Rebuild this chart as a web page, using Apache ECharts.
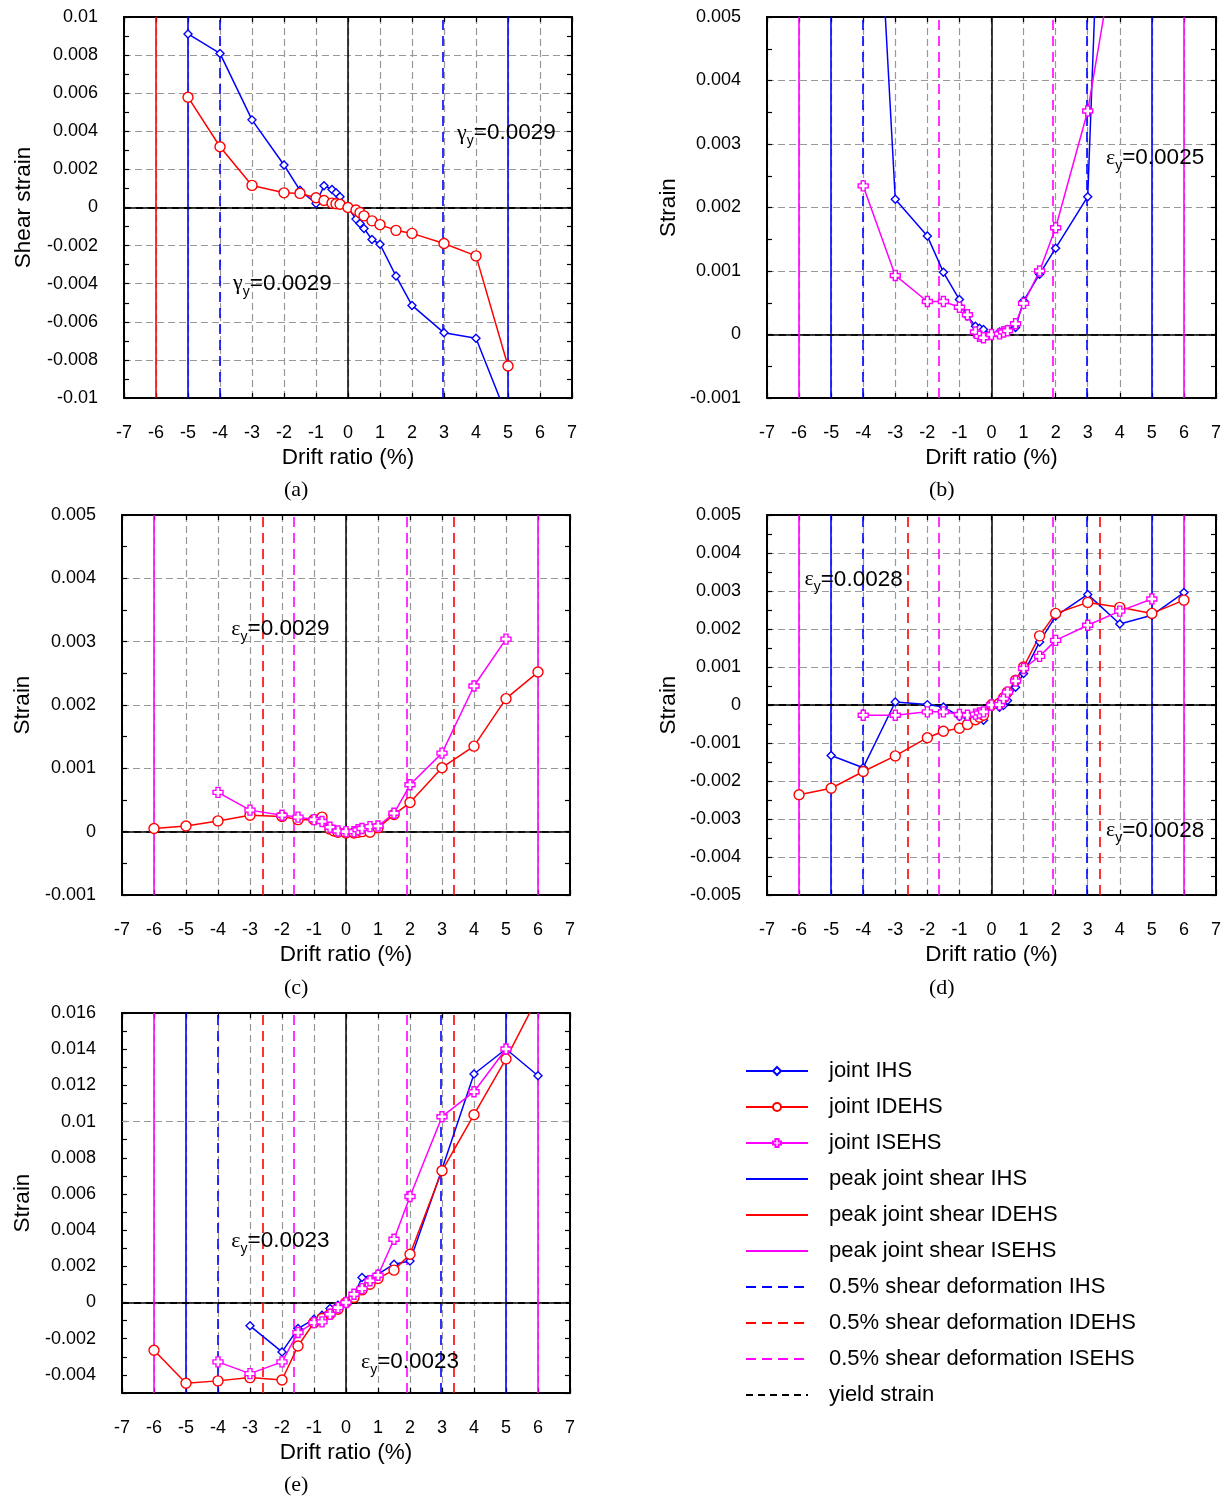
<!DOCTYPE html>
<html><head><meta charset="utf-8">
<script src="https://cdn.jsdelivr.net/npm/echarts@6/dist/echarts.min.js"></script>
<style>html,body{margin:0;padding:0;background:#fff}#c{width:1231px;height:1497px}</style>
</head><body><div id="c"></div>
<script>
// ---------------- DATA ----------------
// Panel (a) joint shear strain
const a_x_IHS   = [-5,-4,-3,-2,-1.5,-1,-0.75,-0.5,-0.375,-0.25,0,0.25,0.375,0.5,0.75,1,1.5,2,3,4,5];
const a_y_IHS   = [0.00911,0.00809,0.0046,0.00223,0.0009,0.00021,0.00114,0.00095,0.00077,0.00056,0,-0.00061,-0.00084,-0.0011,-0.00168,-0.00193,-0.0036,-0.00514,-0.00658,-0.00686,-0.0111];
const a_x_IDEHS = [-5,-4,-3,-2,-1.5,-1,-0.75,-0.5,-0.375,-0.25,0,0.25,0.375,0.5,0.75,1,1.5,2,3,4,5];
const a_y_IDEHS = [0.00579,0.00319,0.00116,0.00077,0.00074,0.00051,0.00037,0.00023,0.0002,0.00017,0,-0.00013,-0.00027,-0.00044,-0.0007,-0.0009,-0.0012,-0.00136,-0.00189,-0.00254,-0.00832];
// Panel (b)
const b_x_IHS   = [-4,-3,-2,-1.5,-1,-0.75,-0.5,-0.375,-0.25,0,0.25,0.375,0.5,0.75,1,1.5,2,3,4];
const b_y_IHS   = [0.0114,0.00213,0.00155,0.00098,0.00055,0.00029,0.00013,0.0001,0.00008,0,0.00004,0.00006,0.00008,0.00011,0.00053,0.00095,0.00136,0.00217,0.0157];
const b_x_ISEHS = [-4,-3,-2,-1.5,-1,-0.75,-0.5,-0.375,-0.25,0,0.25,0.375,0.5,0.75,1,1.5,2,3,4];
const b_y_ISEHS = [0.00234,0.00093,0.00052,0.00052,0.00043,0.00031,0.00004,-0.00003,-0.00005,0,0.00001,0.00004,0.00006,0.00017,0.00049,0.001,0.00168,0.00352,0.0065];
// Panel (c)
const c_x_IDEHS = [-6,-5,-4,-3,-2,-1.5,-1,-0.75,-0.5,-0.375,-0.25,0,0.25,0.375,0.5,0.75,1,1.5,2,3,4,5,6];
const c_y_IDEHS = [0.00005,0.00009,0.00017,0.00026,0.00024,0.00019,0.00019,0.00023,0.00004,0.00001,-0.00001,-0.00002,-0.00002,-0.00001,0,-0.00001,0.00006,0.00027,0.00046,0.00101,0.00135,0.0021,0.00252];
const c_x_ISEHS = [-4,-3,-2,-1.5,-1,-0.75,-0.5,-0.25,0,0.25,0.375,0.5,0.75,1,1.5,2,3,4,5];
const c_y_ISEHS = [0.00062,0.00034,0.00026,0.00023,0.00019,0.00016,0.00007,0.00001,0,0,0.00003,0.00005,0.00008,0.00009,0.00029,0.00074,0.00124,0.0023,0.00304];
// Panel (d)
const d_x_IHS   = [-5,-4,-3,-2,-1.5,-1,-0.75,-0.5,-0.25,0,0.25,0.375,0.5,0.75,1,1.5,2,3,4,5,6];
const d_y_IHS   = [-0.00133,-0.00165,0.00008,0.00001,-0.00005,-0.0003,-0.00033,-0.00036,-0.0004,0,-0.00006,-0.00001,0.00012,0.00047,0.00083,0.00166,0.00234,0.00291,0.00213,0.00236,0.00296];
const d_x_IDEHS = [-6,-5,-4,-3,-2,-1.5,-1,-0.75,-0.5,-0.375,-0.25,0,0.25,0.375,0.5,0.75,1,1.5,2,3,4,5,6];
const d_y_IDEHS = [-0.00236,-0.00219,-0.00175,-0.00134,-0.00086,-0.00069,-0.00061,-0.00051,-0.00039,-0.00032,-0.00027,0,0.00005,0.00019,0.00034,0.00065,0.001,0.00182,0.00241,0.0027,0.00257,0.00241,0.00276];
const d_x_ISEHS = [-4,-3,-2,-1.5,-1,-0.75,-0.5,-0.375,-0.25,0,0.25,0.375,0.5,0.75,1,1.5,2,3,4,5];
const d_y_ISEHS = [-0.00027,-0.00027,-0.00018,-0.00018,-0.00025,-0.00027,-0.00024,-0.00021,-0.00018,0,0.00001,0.00017,0.00034,0.00063,0.00096,0.00128,0.0017,0.0021,0.00247,0.00279];
// Panel (e)
const e_x_IHS   = [-3,-2,-1.5,-1,-0.75,-0.5,-0.25,0,0.25,0.5,1,1.5,2,3,4,5,6];
const e_y_IHS   = [-0.00129,-0.00273,-0.00144,-0.00092,-0.0007,-0.00033,-0.00015,0,0.0004,0.00138,0.00157,0.00212,0.0023,0.00737,0.01263,0.01401,0.01253];
const e_x_IDEHS = [-6,-5,-4,-3,-2,-1.5,-1,-0.75,-0.5,-0.25,0,0.25,0.5,0.75,1,1.5,2,3,4,5,6];
const e_y_IDEHS = [-0.00264,-0.00446,-0.00433,-0.00415,-0.00428,-0.0024,-0.00111,-0.00088,-0.00065,-0.00037,0,0.00028,0.0007,0.00101,0.00133,0.00179,0.00267,0.00728,0.01038,0.01346,0.0169];
const e_x_ISEHS = [-4,-3,-2,-1.5,-1,-0.75,-0.5,-0.25,0,0.25,0.5,0.75,1,1.5,2,3,4,5];
const e_y_ISEHS = [-0.00328,-0.00393,-0.00328,-0.00166,-0.00111,-0.00107,-0.00065,-0.00028,0,0.00046,0.00077,0.0012,0.00151,0.0035,0.00586,0.01027,0.01165,0.01401];

// vertical reference drift ratios (%)
const a_peakIHS = [-5,5], a_peakIDEHS = [-6], a_defIHS = [-4.02,2.96];
const b_peakIHS = [-5,5], b_peakISEHS = [-6,6], b_defIHS = [-4.02,2.96], b_defISEHS = [-1.63,1.91];
const c_peakISEHS = [-6,6], c_defIDEHS = [-2.59,3.36], c_defISEHS = [-1.63,1.91];
const d_peakIHS = [-5,5], d_peakISEHS = [-6,6], d_defIHS = [-4.02,2.96], d_defIDEHS = [-2.6,3.36], d_defISEHS = [-1.63,1.91];
const e_peakIHS = [-5,5], e_peakISEHS = [-6,6], e_defIHS = [-4.02,2.95], e_defIDEHS = [-2.59,3.36], e_defISEHS = [-1.63,1.91];

// yield strains
const a_yield = [0.0029,-0.0029];
const b_yield = [0.0025];
const c_yield = [0.0029];
const d_yield = [0.0028,-0.0028];
const e_yield = [0.0023,-0.0023];

// axes
const xRange = {min:-7, max:7, interval:1};
const yRanges = [
  {min:-0.01, max:0.01, interval:0.002},
  {min:-0.001, max:0.005, interval:0.001},
  {min:-0.001, max:0.005, interval:0.001},
  {min:-0.005, max:0.005, interval:0.001},
  {min:-0.005, max:0.016, interval:0.001} // labels every 0.002
];
const e_gridValues = [-0.004,-0.002,0,0.002,0.004,0.006,0.008,0.01,0.012,0.014,0.016];
const yNames = ['Shear strain','Strain','Strain','Strain','Strain'];
const panelLabels = ['(a)','(b)','(c)','(d)','(e)'];

// ---------------- STYLE / LAYOUT ----------------
const FONT = 'Liberation Sans, Arial, sans-serif';
const BLUE = '#0000ff', RED = '#ff0000', MAG = '#ff00ff';
const GREY = {color:'#999999', width:1.2, type:[7,4]};
const DASH = [10,6];
const grids = [
  {left:124, top:17, width:448, height:381},
  {left:767, top:17, width:449, height:381},
  {left:122, top:515, width:448, height:380},
  {left:767, top:515, width:449, height:380},
  {left:122, top:1013, width:448, height:380}
];
const yNameGap = [89, 87, 88, 87, 88];
const titlePos = [[279,474],[924,474],[279,972],[924,972],[279,1469]];
const plus = 'path://M3,0 L7,0 L7,3 L10,3 L10,7 L7,7 L7,10 L3,10 L3,7 L0,7 L0,3 L3,3 Z';
const markerStyle = {
  'joint IHS':   {color:BLUE, symbol:'diamond', size:8},
  'joint IDEHS': {color:RED, symbol:'circle', size:10},
  'joint ISEHS': {color:MAG, symbol:plus, size:10}
};

function fmt(v){ const r = Math.round(v*1e6)/1e6; return r===0 ? '0' : String(r); }

const xAxes = [], yAxes = [], series = [];
grids.forEach((g, gi) => {
  const yr = yRanges[gi];
  const evenOnly = gi === 4;
  const common = {gridIndex:gi, type:'value', min:xRange.min, max:xRange.max, interval:xRange.interval,
    axisLine:{show:true, onZero:false, lineStyle:{color:'#000', width:2}},
    axisTick:{show:true, inside:true, length:5, lineStyle:{color:'#000', width:1.2}}};
  xAxes.push(Object.assign({}, common, {position:'bottom',
    axisLabel:{fontSize:18, color:'#000', fontFamily:FONT, margin:26, formatter:fmt},
    splitLine:{show:true, lineStyle:GREY},
    name:'Drift ratio (%)', nameLocation:'middle', nameGap:48,
    nameTextStyle:{fontSize:22.5, color:'#000', fontFamily:FONT}}));
  xAxes.push(Object.assign({}, common, {position:'top', axisLabel:{show:false}, splitLine:{show:false}}));
  const ycommon = {gridIndex:gi, type:'value', min:yr.min, max:yr.max, interval:yr.interval,
    axisLine:{show:true, onZero:false, lineStyle:{color:'#000', width:2}},
    axisTick:{show:true, inside:true, length:5, lineStyle:{color:'#000', width:1.2}},
    minorTick:{show:!evenOnly, splitNumber:2, length:5, lineStyle:{color:'#000', width:1.2}}};
  yAxes.push(Object.assign({}, ycommon, {position:'left',
    axisLabel:{fontSize:18, color:'#000', fontFamily:FONT, margin:26,
      formatter: v => evenOnly ? (Math.abs(Math.round(v*1000))%2===0 ? fmt(v) : '') : fmt(v)},
    splitLine:{show:!evenOnly, lineStyle:GREY},
    name:yNames[gi], nameLocation:'middle', nameGap:yNameGap[gi],
    nameTextStyle:{fontSize:22.5, color:'#000', fontFamily:FONT}}));
  yAxes.push(Object.assign({}, ycommon, {position:'right', axisLabel:{show:false}, splitLine:{show:false}}));

  // helper series: extra grid lines + zero axes
  const helperLines = [];
  if (evenOnly) e_gridValues.forEach(v => helperLines.push({yAxis:v, lineStyle:GREY}));
  helperLines.push({xAxis:0, lineStyle:{color:'#000', width:1.5, type:'solid'}});
  helperLines.push({yAxis:0, lineStyle:{color:'#000', width:1.5, type:'solid'}});
  series.push({type:'line', name:'_helper'+gi, xAxisIndex:2*gi, yAxisIndex:2*gi, data:[], z:1,
    markLine:{silent:true, symbol:['none','none'], label:{show:false}, animation:false, data:helperLines}});
});

const NOSYM = {color:'rgba(0,0,0,0)', borderWidth:0, borderColor:'rgba(0,0,0,0)'};
function vlines(gi, name, xs, color, dashed){
  const ls = {color, width:1.6, type: dashed ? DASH : 'solid'};
  series.push({type:'line', name, xAxisIndex:2*gi, yAxisIndex:2*gi, data:[], symbol:'none', z:2,
    lineStyle:ls, itemStyle:NOSYM,
    markLine:{silent:true, symbol:['none','none'], label:{show:false}, animation:false, lineStyle:ls,
      data: xs.map(x => ({xAxis:x}))}});
}
function yieldLines(gi, vals, labels){
  const ls = {color:'#000', width:1.5, type:[7,5]};
  series.push({type:'line', name:'yield strain', xAxisIndex:2*gi, yAxisIndex:2*gi, data:[], symbol:'none', z:2,
    lineStyle:ls, itemStyle:NOSYM,
    markLine:{silent:true, symbol:['none','none'], label:{show:false}, animation:false, lineStyle:ls,
      data: vals.map(v => ({yAxis:v}))},
    markPoint:{silent:true, animation:false, symbol:'rect', symbolSize:1, itemStyle:{color:'rgba(0,0,0,0)'},
      label:{show:true, position:'inside', color:'#000',
        rich:{g:{fontFamily:'Liberation Serif, serif', fontSize:22, lineHeight:30, verticalAlign:'middle', color:'#000'},
              s:{fontFamily:FONT, fontSize:14, lineHeight:30, verticalAlign:'bottom', color:'#000'},
              n:{fontFamily:FONT, fontSize:22.5, lineHeight:30, verticalAlign:'middle', color:'#000'}}},
      data: labels.map(l => ({coord:[l.x, l.y], label:{formatter:'{g|'+l.sym+'}{s|y}{n|='+Math.abs(vals[l.i])+'}'}}))}});
}
function dataSeries(gi, name, xs, ys){
  const m = markerStyle[name];
  series.push({type:'line', name, xAxisIndex:2*gi, yAxisIndex:2*gi, z:5, clip:true,
    data: xs.map((x,i) => [x, ys[i]]), symbol:m.symbol, symbolSize:m.size, showSymbol:true,
    lineStyle:{color:m.color, width:1.5}, itemStyle:{color:'#fff', borderColor:m.color, borderWidth:1.4},
    animation:false});
}

// Panel (a)
vlines(0,'peak joint shear IDEHS',a_peakIDEHS,RED,false);
vlines(0,'peak joint shear IHS',a_peakIHS,BLUE,false);
vlines(0,'0.5% shear deformation IHS',a_defIHS,BLUE,true);
yieldLines(0,a_yield,[{i:0,x:4.95,y:0.0039,sym:'γ'},{i:1,x:-2.05,y:-0.004,sym:'γ'}]);
dataSeries(0,'joint IHS',a_x_IHS,a_y_IHS);
dataSeries(0,'joint IDEHS',a_x_IDEHS,a_y_IDEHS);
// Panel (b)
vlines(1,'peak joint shear IHS',b_peakIHS,BLUE,false);
vlines(1,'peak joint shear ISEHS',b_peakISEHS,MAG,false);
vlines(1,'0.5% shear deformation IHS',b_defIHS,BLUE,true);
vlines(1,'0.5% shear deformation ISEHS',b_defISEHS,MAG,true);
yieldLines(1,b_yield,[{i:0,x:5.1,y:0.00278,sym:'ε'}]);
dataSeries(1,'joint IHS',b_x_IHS,b_y_IHS);
dataSeries(1,'joint ISEHS',b_x_ISEHS,b_y_ISEHS);
// Panel (c)
vlines(2,'peak joint shear ISEHS',c_peakISEHS,MAG,false);
vlines(2,'0.5% shear deformation IDEHS',c_defIDEHS,RED,true);
vlines(2,'0.5% shear deformation ISEHS',c_defISEHS,MAG,true);
yieldLines(2,c_yield,[{i:0,x:-2.05,y:0.0032,sym:'ε'}]);
dataSeries(2,'joint IDEHS',c_x_IDEHS,c_y_IDEHS);
dataSeries(2,'joint ISEHS',c_x_ISEHS,c_y_ISEHS);
// Panel (d)
vlines(3,'peak joint shear IHS',d_peakIHS,BLUE,false);
vlines(3,'peak joint shear ISEHS',d_peakISEHS,MAG,false);
vlines(3,'0.5% shear deformation IHS',d_defIHS,BLUE,true);
vlines(3,'0.5% shear deformation IDEHS',d_defIDEHS,RED,true);
vlines(3,'0.5% shear deformation ISEHS',d_defISEHS,MAG,true);
yieldLines(3,d_yield,[{i:0,x:-4.3,y:0.0033,sym:'ε'},{i:1,x:5.1,y:-0.0033,sym:'ε'}]);
dataSeries(3,'joint IHS',d_x_IHS,d_y_IHS);
dataSeries(3,'joint IDEHS',d_x_IDEHS,d_y_IDEHS);
dataSeries(3,'joint ISEHS',d_x_ISEHS,d_y_ISEHS);
// Panel (e)
vlines(4,'peak joint shear IHS',e_peakIHS,BLUE,false);
vlines(4,'peak joint shear ISEHS',e_peakISEHS,MAG,false);
vlines(4,'0.5% shear deformation IHS',e_defIHS,BLUE,true);
vlines(4,'0.5% shear deformation IDEHS',e_defIDEHS,RED,true);
vlines(4,'0.5% shear deformation ISEHS',e_defISEHS,MAG,true);
yieldLines(4,e_yield,[{i:0,x:-2.05,y:0.0034,sym:'ε'},{i:1,x:2.0,y:-0.0033,sym:'ε'}]);
dataSeries(4,'joint IHS',e_x_IHS,e_y_IHS);
dataSeries(4,'joint IDEHS',e_x_IDEHS,e_y_IDEHS);
dataSeries(4,'joint ISEHS',e_x_ISEHS,e_y_ISEHS);

const legendNames = ['joint IHS','joint IDEHS','joint ISEHS','peak joint shear IHS','peak joint shear IDEHS',
  'peak joint shear ISEHS','0.5% shear deformation IHS','0.5% shear deformation IDEHS','0.5% shear deformation ISEHS','yield strain'];

const chart = echarts.init(document.getElementById('c'), null, {renderer:'canvas'});
chart.setOption({
  animation:false,
  backgroundColor:'#fff',
  title: panelLabels.map((t,i) => ({text:t, left:titlePos[i][0], top:titlePos[i][1],
    textStyle:{fontFamily:'Liberation Serif, Times New Roman, serif', fontSize:22, fontWeight:'normal', color:'#000'}})),
  grid: grids.map(g => Object.assign({outerBoundsMode:'none', containLabel:false}, g)),
  xAxis: xAxes,
  yAxis: yAxes,
  legend: {orient:'vertical', left:740, top:1055, itemWidth:62, itemHeight:10, itemGap:14, selectedMode:false,
    data: legendNames,
    textStyle:{fontSize:22, fontFamily:FONT, color:'#000', lineHeight:22, padding:[0,0,0,16]}},
  series
});
</script></body></html>
